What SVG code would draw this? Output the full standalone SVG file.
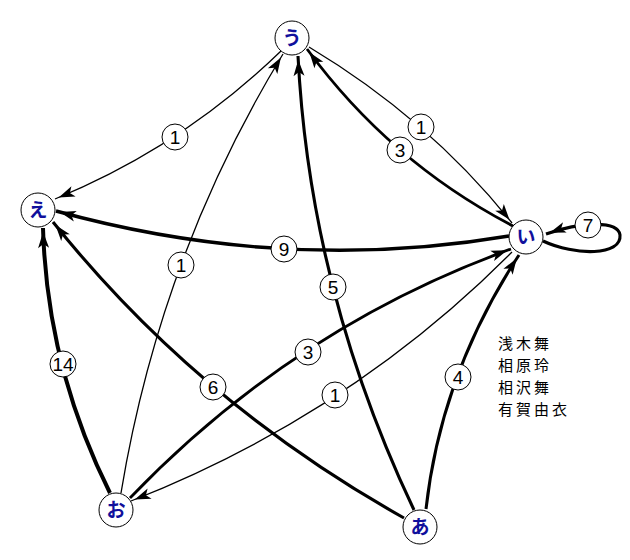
<svg xmlns="http://www.w3.org/2000/svg" width="630" height="560" viewBox="0 0 630 560">
<style>
.e{fill:none;stroke:#000;marker-end:url(#ah)}
.w1{stroke-width:1.3}
.w3{stroke-width:2.8}
.w4{stroke-width:3}
.w5{stroke-width:3.1}
.w9{stroke-width:3.4}
.w14{stroke-width:4}
.lc{fill:#fff;stroke:#000;stroke-width:1}
.lt{font-family:"Liberation Sans",Arial,sans-serif;font-size:19px;text-anchor:middle;fill:#000}
.nc{fill:#fff;stroke:#000;stroke-width:1}
.nt{font-family:"Noto Sans CJK JP",sans-serif;font-size:19px;font-weight:bold;text-anchor:middle;fill:#10109c}
.leg{font-family:"Noto Sans CJK JP",sans-serif;font-size:15px;letter-spacing:3px;fill:#000}
</style>
<defs>
<marker id="ah" markerUnits="userSpaceOnUse" viewBox="0 0 26 12" markerWidth="26" markerHeight="12" refX="20" refY="6" orient="auto" overflow="visible">
<path d="M0,0.5 L16,6 L0,11.5 L4,6 z" fill="#000"/>
</marker>
</defs>
<g id="connectors">
<path id="e-u-e" class="e w1" d="M281,51 Q182,147 55,199"/>
<path id="e-o-u" class="e w1" d="M121,493 Q160,256 283,54"/>
<path id="e-a-u" class="e w5" d="M414,510 Q310,291 298,56"/>
<path id="e-i-u" class="e w3" d="M513,226 Q390,162 307,49"/>
<path id="e-u-i" class="e w1" d="M309,47 Q429,119 512,223"/>
<path id="e-i-e" class="e w9" d="M509,236 Q285,274 56,211"/>
<path id="e-i-i" class="e w5" d="M543,241 C575,256 622,256 620,235 C618,220 580,222 546,234"/>
<path id="e-o-i" class="e w3" d="M130,498 Q293,328 511,249"/>
<path id="e-i-o" class="e w1" d="M512,252 Q350,415 131,501"/>
<path id="e-a-i" class="e w4" d="M426,509 Q441,374 519,255"/>
<path id="e-o-e" class="e w14" d="M110,493 Q47,367 43,228"/>
<path id="e-a-e" class="e w5" d="M404,518 Q197,402 53,222"/>
<g id="edge-labels">
<circle class="lc" cx="175" cy="137" r="13"/><text class="lt" x="175" y="143.8">1</text>
<circle class="lc" cx="181" cy="265" r="13"/><text class="lt" x="181" y="271.8">1</text>
<circle class="lc" cx="333" cy="287" r="13"/><text class="lt" x="333" y="293.8">5</text>
<circle class="lc" cx="400" cy="150" r="13"/><text class="lt" x="400" y="156.8">3</text>
<circle class="lc" cx="421" cy="127" r="13"/><text class="lt" x="421" y="133.8">1</text>
<circle class="lc" cx="284" cy="249" r="13"/><text class="lt" x="284" y="255.8">9</text>
<circle class="lc" cx="588" cy="225" r="13"/><text class="lt" x="588" y="231.8">7</text>
<circle class="lc" cx="308" cy="352" r="13"/><text class="lt" x="308" y="358.8">3</text>
<circle class="lc" cx="335" cy="395" r="13"/><text class="lt" x="335" y="401.8">1</text>
<circle class="lc" cx="458" cy="377" r="13"/><text class="lt" x="458" y="383.8">4</text>
<circle class="lc" cx="63" cy="364" r="13"/><text class="lt" x="63" y="370.8">14</text>
<circle class="lc" cx="213" cy="387" r="13"/><text class="lt" x="213" y="393.8">6</text>
</g>
</g>
<g id="node-u"><circle class="nc" cx="292" cy="38" r="17"/><text class="nt" x="292" y="44.8">う</text></g>
<g id="node-i"><circle class="nc" cx="526" cy="237" r="17"/><text class="nt" x="526" y="243.8">い</text></g>
<g id="node-e"><circle class="nc" cx="38" cy="210" r="17"/><text class="nt" x="38" y="216.8">え</text></g>
<g id="node-o"><circle class="nc" cx="116" cy="510" r="17"/><text class="nt" x="116" y="516.8">お</text></g>
<g id="node-a"><circle class="nc" cx="420" cy="527" r="17"/><text class="nt" x="420" y="533.8">あ</text></g>
<g id="legend">
<text class="leg" x="498" y="349">浅木舞</text>
<text class="leg" x="498" y="371">相原玲</text>
<text class="leg" x="498" y="393">相沢舞</text>
<text class="leg" x="498" y="415">有賀由衣</text>
</g>
</svg>
